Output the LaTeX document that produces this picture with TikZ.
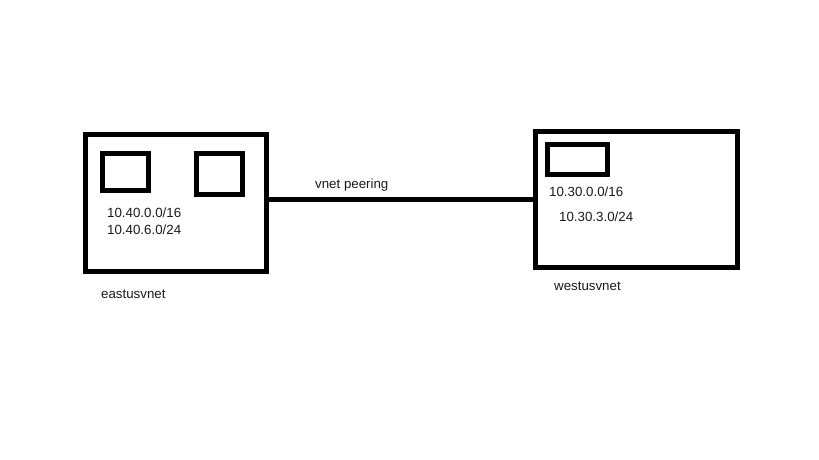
\documentclass[tikz,border=0pt]{standalone}
\usepackage{fontspec}
\setmainfont{Liberation Sans}
\usetikzlibrary{positioning}
\definecolor{ink}{HTML}{000000}
\definecolor{txt}{HTML}{1A1A1A}
\tikzset{
  vnet/.style={draw=ink, line width=5pt, minimum width=#1, inner sep=0pt},
  sub/.style={draw=ink, line width=5pt, inner sep=0pt},
  link/.style={draw=ink, line width=5pt},
  lab/.style={text=txt, font=\fontsize{13.3}{15}\selectfont, inner sep=0pt, anchor=west},
}
\begin{document}
\begin{tikzpicture}[x=1pt,y=-1pt]
  \useasboundingbox (0,0) rectangle (819,460);
  % east vnet
  \node[vnet=181pt, minimum height=137pt] (eastus) at (176,203) {};
  \node[sub, minimum width=46pt, minimum height=37pt] (esubA) at (125.5,172) {};
  \node[sub, minimum width=46pt, minimum height=41pt] (esubB) at (219.5,174) {};
  \node[lab] (eaddrA) at (107,213) {10.40.0.0/16};
  \node[lab] (eaddrB) at (107,230) {10.40.6.0/24};
  \node[lab] (ename) at (101,294) {eastusvnet};
  % west vnet
  \node[vnet=202pt, minimum height=136pt] (westus) at (636.5,199.5) {};
  \node[sub, minimum width=60pt, minimum height=30pt] (wsub) at (577.5,159.5) {};
  \node[lab] (waddrA) at (549,192) {10.30.0.0/16};
  \node[lab] (waddrB) at (559,217) {10.30.3.0/24};
  \node[lab] (wname) at (554,286) {westusvnet};
  % peering
  \coordinate (peerA) at (westus.west -| eastus.east);
  \draw[link] (peerA) -- (westus.west);
  \node[lab] (peer) at (315,185) {vnet peering};
\end{tikzpicture}
\end{document}
